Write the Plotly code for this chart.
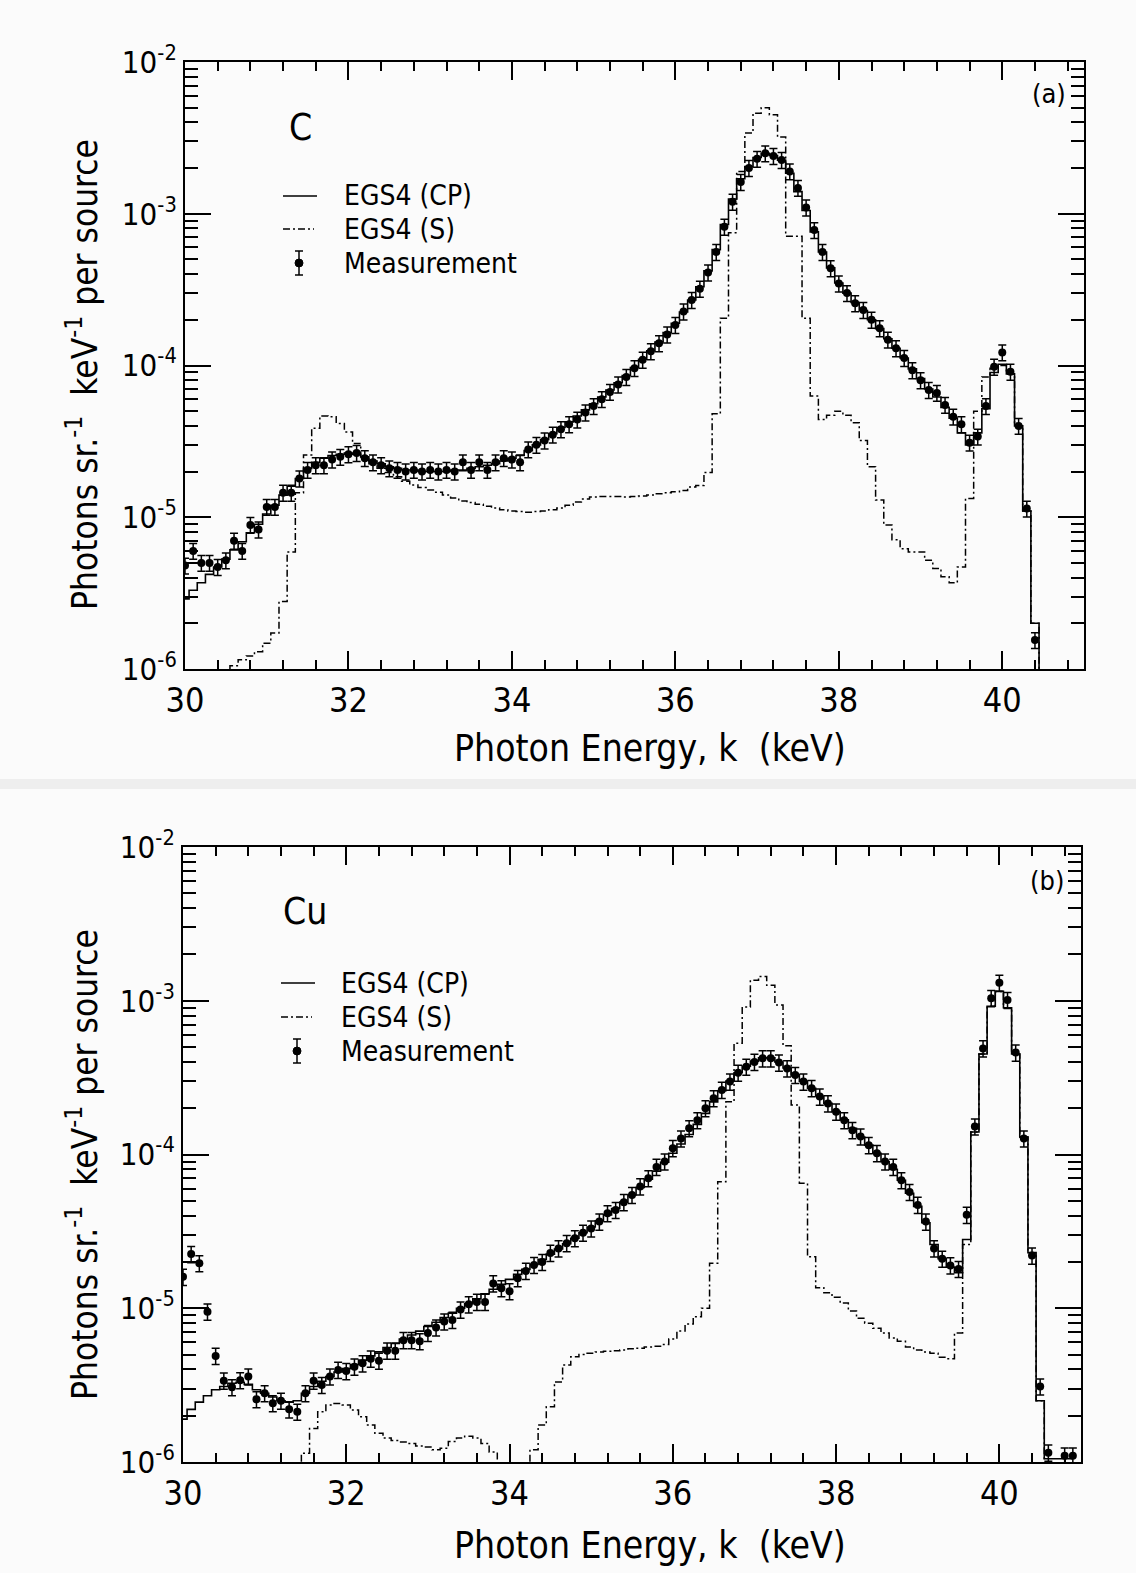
import numpy as np
import plotly.graph_objects as go

# 0.1 keV bins, centres on x.x0 (edges on x.x5)
BIN_START = 30.0
BIN_WIDTH = 0.1

# ---- (a) C target, photons sr^-1 keV^-1 per source, from 30.0 keV ----
c_measurement = [
    4.8e-6, 6.0e-6, 5.0e-6, 5.0e-6, 4.7e-6, 5.2e-6, 7.0e-6, 6.0e-6, 8.9e-6, 8.3e-6,
    1.17e-5, 1.17e-5, 1.45e-5, 1.45e-5, 1.8e-5, 2.05e-5, 2.2e-5, 2.2e-5, 2.4e-5, 2.5e-5,
    2.6e-5, 2.65e-5, 2.45e-5, 2.3e-5, 2.2e-5, 2.1e-5, 2.05e-5, 2.0e-5, 2.05e-5, 2.0e-5,
    2.05e-5, 2.0e-5, 2.05e-5, 2.0e-5, 2.3e-5, 2.05e-5, 2.3e-5, 2.05e-5, 2.3e-5, 2.45e-5,
    2.4e-5, 2.3e-5, 2.8e-5, 3.0e-5, 3.2e-5, 3.5e-5, 3.8e-5, 4.1e-5, 4.4e-5, 4.9e-5,
    5.4e-5, 6.0e-5, 6.7e-5, 7.5e-5, 8.4e-5, 9.6e-5, 1.09e-4, 1.24e-4, 1.4e-4, 1.6e-4,
    1.85e-4, 2.27e-4, 2.7e-4, 3.2e-4, 4.1e-4, 5.6e-4, 8.2e-4, 1.2e-3, 1.62e-3, 2.0e-3,
    2.3e-3, 2.5e-3, 2.4e-3, 2.26e-3, 1.9e-3, 1.48e-3, 1.1e-3, 7.8e-4, 5.6e-4, 4.37e-4,
    3.47e-4, 3.0e-4, 2.57e-4, 2.32e-4, 2.0e-4, 1.76e-4, 1.48e-4, 1.3e-4, 1.12e-4, 9.3e-5,
    8.0e-5, 6.9e-5, 6.6e-5, 5.5e-5, 4.6e-5, 4.1e-5, 3.1e-5, 3.4e-5, 5.4e-5, 9.8e-5,
    1.22e-4, 9.1e-5, 4.0e-5, 1.14e-5, 1.55e-6,
]
c_egs4_cp = [
    2.9e-6, 3.3e-6, 3.7e-6, 4.2e-6, 4.7e-6, 5.3e-6, 6.1e-6, 6.9e-6, 7.9e-6, 9.0e-6,
    1.05e-5, 1.2e-5, 1.4e-5, 1.6e-5, 1.8e-5, 2.1e-5, 2.3e-5, 2.45e-5, 2.55e-5, 2.6e-5,
    2.65e-5, 2.6e-5, 2.5e-5, 2.35e-5, 2.25e-5, 2.15e-5, 2.1e-5, 2.05e-5, 2.05e-5, 2.0e-5,
    2.0e-5, 2.0e-5, 2.0e-5, 2.05e-5, 2.05e-5, 2.1e-5, 2.15e-5, 2.2e-5, 2.25e-5, 2.35e-5,
    2.45e-5, 2.55e-5, 2.75e-5, 3.0e-5, 3.25e-5, 3.55e-5, 3.9e-5, 4.25e-5, 4.65e-5, 5.1e-5,
    5.6e-5, 6.2e-5, 6.9e-5, 7.7e-5, 8.6e-5, 9.7e-5, 1.1e-4, 1.25e-4, 1.43e-4, 1.65e-4,
    1.9e-4, 2.25e-4, 2.7e-4, 3.3e-4, 4.2e-4, 5.8e-4, 8.5e-4, 1.25e-3, 1.7e-3, 2.05e-3,
    2.35e-3, 2.5e-3, 2.42e-3, 2.25e-3, 1.85e-3, 1.4e-3, 1.05e-3, 7.6e-4, 5.6e-4, 4.4e-4,
    3.5e-4, 3.0e-4, 2.6e-4, 2.3e-4, 2.0e-4, 1.75e-4, 1.5e-4, 1.3e-4, 1.12e-4, 9.5e-5,
    8.2e-5, 7.0e-5, 6.2e-5, 5.3e-5, 4.5e-5, 3.6e-5, 3.0e-5, 3.6e-5, 5.2e-5, 9.0e-5,
    1.02e-4, 8.8e-5, 4.0e-5, 1.1e-5, 2.0e-6, 1e-8,
]
c_egs4_s = [
    5e-7, 5e-7, 5e-7, 5e-7, 5e-7, 9e-7, 1.05e-6, 1.15e-6, 1.22e-6, 1.3e-6,
    1.48e-6, 1.73e-6, 2.78e-6, 5.9e-6, 1.45e-5, 2.57e-5, 3.86e-5, 4.65e-5, 4.6e-5, 4.15e-5,
    3.65e-5, 3.06e-5, 2.5e-5, 2.25e-5, 2.1e-5, 1.97e-5, 1.85e-5, 1.73e-5, 1.63e-5, 1.57e-5,
    1.51e-5, 1.46e-5, 1.4e-5, 1.34e-5, 1.28e-5, 1.25e-5, 1.22e-5, 1.18e-5, 1.15e-5, 1.12e-5,
    1.1e-5, 1.09e-5, 1.08e-5, 1.09e-5, 1.1e-5, 1.12e-5, 1.15e-5, 1.2e-5, 1.26e-5, 1.32e-5,
    1.36e-5, 1.37e-5, 1.37e-5, 1.37e-5, 1.36e-5, 1.37e-5, 1.38e-5, 1.4e-5, 1.43e-5, 1.45e-5,
    1.47e-5, 1.5e-5, 1.58e-5, 1.62e-5, 1.97e-5, 4.8e-5, 2.05e-4, 7.5e-4, 1.9e-3, 3.4e-3,
    4.6e-3, 5.0e-3, 4.5e-3, 3.2e-3, 7.1e-4, 7.1e-4, 2.05e-4, 6.3e-5, 4.4e-5, 4.7e-5,
    5.0e-5, 4.7e-5, 4.2e-5, 3.2e-5, 2.15e-5, 1.3e-5, 8.9e-6, 7.1e-6, 6.2e-6, 5.9e-6,
    5.9e-6, 5.2e-6, 4.6e-6, 4.05e-6, 3.7e-6, 4.7e-6, 1.33e-5, 5.0e-5, 8.4e-5, 9.6e-5,
    1.0e-4, 8.8e-5, 4.0e-5, 1.1e-5, 2.0e-6, 1e-8,
]

# ---- (b) Cu target ----
cu_measurement = [
    1.6e-5, 2.25e-5, 1.96e-5, 9.5e-6, 4.9e-6, 3.38e-6, 3.06e-6, 3.4e-6, 3.6e-6, 2.56e-6,
    2.8e-6, 2.41e-6, 2.5e-6, 2.2e-6, 2.12e-6, 2.8e-6, 3.38e-6, 3.17e-6, 3.6e-6, 3.97e-6,
    3.9e-6, 4.17e-6, 4.38e-6, 4.7e-6, 4.55e-6, 5.3e-6, 5.3e-6, 6.2e-6, 6.2e-6, 6.1e-6,
    6.9e-6, 7.5e-6, 8.2e-6, 8.4e-6, 9.8e-6, 1.06e-5, 1.1e-5, 1.1e-5, 1.45e-5, 1.35e-5,
    1.29e-5, 1.57e-5, 1.75e-5, 1.91e-5, 2.0e-5, 2.29e-5, 2.45e-5, 2.65e-5, 2.85e-5, 3.1e-5,
    3.3e-5, 3.66e-5, 4.15e-5, 4.35e-5, 4.9e-5, 5.45e-5, 6.2e-5, 7.0e-5, 8.3e-5, 9.0e-5,
    1.1e-4, 1.27e-4, 1.48e-4, 1.67e-4, 2.0e-4, 2.32e-4, 2.63e-4, 2.98e-4, 3.4e-4, 3.72e-4,
    4.0e-4, 4.22e-4, 4.22e-4, 3.96e-4, 3.63e-4, 3.29e-4, 2.98e-4, 2.7e-4, 2.38e-4, 2.15e-4,
    1.9e-4, 1.67e-4, 1.44e-4, 1.31e-4, 1.15e-4, 1.02e-4, 9.0e-5, 8.3e-5, 6.8e-5, 5.7e-5,
    4.7e-5, 3.66e-5, 2.45e-5, 2.1e-5, 1.9e-5, 1.8e-5, 4.05e-5, 1.52e-4, 4.9e-4, 1.04e-3,
    1.31e-3, 1.01e-3, 4.6e-4, 1.27e-4, 2.2e-5, 3.1e-6, 1.15e-6, None, 1.1e-6, 1.1e-6,
]
cu_egs4_cp = [
    1.9e-6, 2.2e-6, 2.45e-6, 2.7e-6, 2.95e-6, 3.1e-6, 3.25e-6, 3.3e-6, 3.2e-6, 2.95e-6,
    2.8e-6, 2.65e-6, 2.5e-6, 2.45e-6, 2.5e-6, 2.8e-6, 3.1e-6, 3.35e-6, 3.6e-6, 3.85e-6,
    4.05e-6, 4.3e-6, 4.6e-6, 4.9e-6, 5.2e-6, 5.55e-6, 5.9e-6, 6.3e-6, 6.7e-6, 7.1e-6,
    7.6e-6, 8.1e-6, 8.7e-6, 9.3e-6, 1.0e-5, 1.07e-5, 1.15e-5, 1.24e-5, 1.33e-5, 1.43e-5,
    1.54e-5, 1.66e-5, 1.79e-5, 1.93e-5, 2.08e-5, 2.25e-5, 2.43e-5, 2.63e-5, 2.85e-5, 3.1e-5,
    3.38e-5, 3.7e-5, 4.05e-5, 4.45e-5, 4.9e-5, 5.45e-5, 6.1e-5, 6.9e-5, 7.8e-5, 8.9e-5,
    1.02e-4, 1.17e-4, 1.35e-4, 1.57e-4, 1.85e-4, 2.2e-4, 2.6e-4, 3.0e-4, 3.4e-4, 3.75e-4,
    4.05e-4, 4.25e-4, 4.25e-4, 4.0e-4, 3.65e-4, 3.3e-4, 3.0e-4, 2.7e-4, 2.4e-4, 2.15e-4,
    1.9e-4, 1.68e-4, 1.48e-4, 1.3e-4, 1.15e-4, 1.02e-4, 9.0e-5, 8.0e-5, 6.8e-5, 5.6e-5,
    4.6e-5, 3.6e-5, 2.6e-5, 2.1e-5, 1.85e-5, 1.7e-5, 2.8e-5, 1.4e-4, 4.5e-4, 9.2e-4,
    1.15e-3, 9.0e-4, 4.5e-4, 1.3e-4, 2.3e-5, 2.5e-6, 1.05e-6, 1.05e-6, 1.05e-6, 1.05e-6,
]
cu_egs4_s = [
    5e-7, 5e-7, 5e-7, 5e-7, 5e-7, 5e-7, 5e-7, 5e-7, 5e-7, 5e-7,
    5e-7, 5e-7, 5e-7, 5e-7, 5e-7, 1.14e-6, 1.65e-6, 2.12e-6, 2.35e-6, 2.4e-6,
    2.35e-6, 2.18e-6, 1.97e-6, 1.74e-6, 1.54e-6, 1.43e-6, 1.38e-6, 1.35e-6, 1.32e-6, 1.27e-6,
    1.25e-6, 1.2e-6, 1.23e-6, 1.36e-6, 1.43e-6, 1.47e-6, 1.43e-6, 1.32e-6, 1.16e-6, 5e-7,
    5e-7, 5e-7, 5e-7, 1.2e-6, 1.74e-6, 2.29e-6, 3.32e-6, 4.27e-6, 4.84e-6, 5.0e-6,
    5.1e-6, 5.2e-6, 5.25e-6, 5.3e-6, 5.35e-6, 5.45e-6, 5.5e-6, 5.6e-6, 5.65e-6, 5.8e-6,
    6.3e-6, 7.1e-6, 7.9e-6, 8.8e-6, 1.0e-5, 1.96e-5, 6.65e-5, 2.2e-4, 5.3e-4, 9.1e-4,
    1.36e-3, 1.44e-3, 1.26e-3, 9.4e-4, 5.1e-4, 2.1e-4, 6.5e-5, 2.16e-5, 1.36e-5, 1.26e-5,
    1.18e-5, 1.08e-5, 9.6e-6, 8.6e-6, 8.0e-6, 7.4e-6, 6.9e-6, 6.4e-6, 6.1e-6, 5.6e-6,
    5.35e-6, 5.2e-6, 5.1e-6, 4.8e-6, 4.7e-6, 6.9e-6, 2.6e-5, 1.4e-4, 4.5e-4, 9.2e-4,
    1.15e-3, 9.0e-4, 4.5e-4, 1.3e-4, 2.3e-5, 2.5e-6, 1e-8,
]

x_tick_vals = [30, 32, 34, 36, 38, 40]
y_tick_vals = [1e-6, 1e-5, 1e-4, 1e-3, 1e-2]
y_tick_text = ["10<sup>-6</sup>", "10<sup>-5</sup>", "10<sup>-4</sup>",
               "10<sup>-3</sup>", "10<sup>-2</sup>"]
legend_labels = ["EGS4 (CP)", "EGS4 (S)", "Measurement"]
meas_err_pct = 12

W, H = 1136, 1573
FONT = "Liberation Sans Narrow, DejaVu Sans Condensed, DejaVu Sans, sans-serif"
S_DASH = "7px,3px,2px,3px"


def centres(values):
    return np.round(BIN_START + BIN_WIDTH * np.arange(len(values)), 2)


def px(x):
    return x / W


def py(y):
    return 1 - y / H


fig = go.Figure()

panels = [
    ("x", "y", c_measurement, c_egs4_cp, c_egs4_s),
    ("x2", "y2", cu_measurement, cu_egs4_cp, cu_egs4_s),
]
for xa, ya, meas, cp, s in panels:
    fig.add_trace(go.Scatter(
        x=centres(cp), y=cp, mode="lines", name=legend_labels[0],
        line=dict(shape="hvh", color="black", width=1.6),
        xaxis=xa, yaxis=ya,
    ))
    fig.add_trace(go.Scatter(
        x=centres(s), y=s, mode="lines", name=legend_labels[1],
        line=dict(shape="hvh", color="black", width=1.5, dash=S_DASH),
        xaxis=xa, yaxis=ya,
    ))
    fig.add_trace(go.Scatter(
        x=centres(meas), y=meas, mode="markers", name=legend_labels[2],
        marker=dict(color="black", size=8),
        error_y=dict(type="percent", value=meas_err_pct, width=4,
                     thickness=1.5, color="black"),
        xaxis=xa, yaxis=ya,
    ))

axis_common = dict(
    showline=True, linecolor="black", linewidth=2, mirror="ticks",
    ticks="inside", tickcolor="black", showgrid=False, zeroline=False,
)
xaxis_style = dict(
    axis_common, range=[30, 41], tickvals=x_tick_vals, ticklen=18, tickwidth=2,
    tickfont=dict(size=34, color="black", family=FONT),
    minor=dict(tick0=30, dtick=0.4, ticks="inside", ticklen=9, tickwidth=1.5,
               tickcolor="black", showgrid=False),
)
yaxis_style = dict(
    axis_common, type="log", range=[-6, -2], tickvals=y_tick_vals,
    ticktext=y_tick_text, ticklen=26, tickwidth=2,
    tickfont=dict(size=31, color="black", family=FONT),
    minor=dict(dtick="D1", ticks="inside", ticklen=13, tickwidth=1.5,
               tickcolor="black", showgrid=False),
)

fig.update_layout(
    width=W, height=H,
    margin=dict(l=0, r=0, t=0, b=0, autoexpand=False),
    paper_bgcolor="#fbfbfb", plot_bgcolor="#fbfbfb",
    font=dict(family=FONT, color="black"),
    xaxis=dict(xaxis_style, domain=[px(185), px(1084)], anchor="y"),
    yaxis=dict(yaxis_style, domain=[py(669), py(62)], anchor="x"),
    xaxis2=dict(xaxis_style, domain=[px(183), px(1081)], anchor="y2"),
    yaxis2=dict(yaxis_style, domain=[py(1462), py(847)], anchor="x2"),
    showlegend=False,
)

# light band between the two scanned panels
fig.add_shape(type="rect", xref="paper", yref="paper", x0=0, x1=1,
              y0=py(789), y1=py(779), fillcolor="#eeeeee", line=dict(width=0),
              layer="below")


def paper_line(x0, y0, x1, y1, dash="solid", width=1.6):
    fig.add_shape(type="line", xref="paper", yref="paper",
                  x0=px(x0), y0=py(y0), x1=px(x1), y1=py(y1),
                  line=dict(color="black", width=width, dash=dash))


def text(t, x, y, size, angle=0, anchor="center"):
    fig.add_annotation(text=t, x=px(x), y=py(y), xref="paper", yref="paper",
                       showarrow=False, textangle=angle,
                       xanchor=anchor, yanchor="middle",
                       font=dict(size=size, color="black", family=FONT))


# hand-placed legends (key glyphs + labels) inside each panel
for text_x, key_x, rows in [(342, 283, (196, 229, 263)), (339, 281, (983, 1017, 1051))]:
    paper_line(key_x, rows[0], key_x + 34, rows[0])
    paper_line(key_x, rows[1], key_x + 31, rows[1], dash=S_DASH, width=1.5)
    mx = key_x + 16
    paper_line(mx, rows[2] - 12, mx, rows[2] + 12, width=1.5)
    paper_line(mx - 4, rows[2] - 12, mx + 4, rows[2] - 12, width=1.5)
    paper_line(mx - 4, rows[2] + 12, mx + 4, rows[2] + 12, width=1.5)
    fig.add_shape(type="circle", xref="paper", yref="paper",
                  x0=px(mx - 4), x1=px(mx + 4), y0=py(rows[2] - 4), y1=py(rows[2] + 4),
                  fillcolor="black", line=dict(color="black", width=1))
    for label, y in zip(legend_labels, rows):
        text(label, text_x, y, 28, anchor="left")

text("C", 300, 127, 37)
text("(a)", 1049, 93, 27)
text("Cu", 305, 912, 37)
text("(b)", 1047, 880, 27)
text("Photon Energy, k  (keV)", 650, 748, 37)
text("Photon Energy, k  (keV)", 650, 1545, 37)

ytitle = "Photons sr.<sup>-1</sup>  keV<sup>-1</sup> per source"
for y in (375, 1165):
    text(ytitle, 82, y, 35, angle=-90)

fig.write_html("out.html", config={"displayModeBar": False},
               post_script="document.body.style.margin='0';")
